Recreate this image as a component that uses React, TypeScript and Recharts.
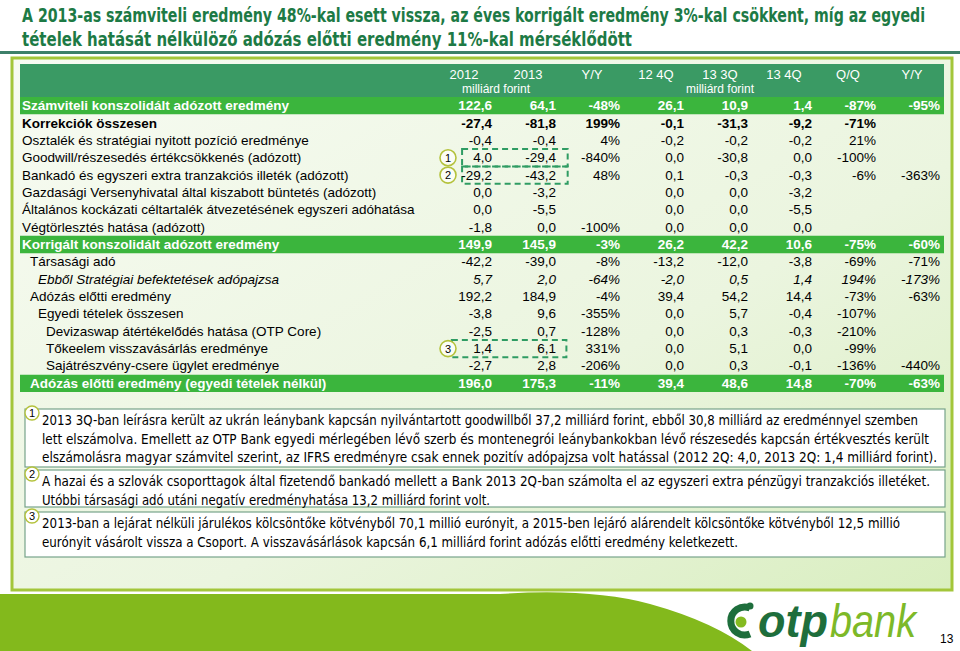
import React from 'react';
import { ScatterChart, Scatter, XAxis, YAxis, ReferenceArea, ReferenceDot } from 'recharts';

// row labels of the table (top to bottom)
const rowLabels = [
  'Számviteli konszolidált adózott eredmény',
  'Korrekciók összesen',
  'Osztalék és stratégiai nyitott pozíció eredménye',
  'Goodwill/részesedés értékcsökkenés (adózott)',
  'Bankadó és egyszeri extra tranzakciós illeték (adózott)',
  'Gazdasági Versenyhivatal által kiszabott büntetés (adózott)',
  'Általános kockázati céltartalék átvezetésének egyszeri adóhatása',
  'Végtörlesztés hatása (adózott)',
  'Korrigált konszolidált adózott eredmény',
  'Társasági adó',
  'Ebből Stratégiai befektetések adópajzsa',
  'Adózás előtti eredmény',
  'Egyedi tételek összesen',
  'Devizaswap átértékelődés hatása (OTP Core)',
  'Tőkeelem visszavásárlás eredménye',
  'Sajátrészvény-csere ügylet eredménye',
  'Adózás előtti eredmény (egyedi tételek nélkül)',
];
const rowIndent = [0, 0, 0, 0, 0, 0, 0, 0, 0, 1, 2, 1, 2, 3, 3, 3, 1];
const rowKind = ['total', 'bold', '', '', '', '', '', '', 'total', '', 'italic', '', '', '', '', '', 'total'];

const columns = ['2012', '2013', 'Y/Y', '12 4Q', '13 3Q', '13 4Q', 'Q/Q', 'Y/Y'];
const columnIsPct = [false, false, true, false, false, false, true, true];

const v2012 = [122.6, -27.4, -0.4, 4.0, -29.2, 0.0, 0.0, -1.8, 149.9, -42.2, 5.7, 192.2, -3.8, -2.5, 1.4, -2.7, 196.0];
const v2013 = [64.1, -81.8, -0.4, -29.4, -43.2, -3.2, -5.5, 0.0, 145.9, -39.0, 2.0, 184.9, 9.6, 0.7, 6.1, 2.8, 175.3];
const vYearPct = [-48, 199, 4, -840, 48, null, null, -100, -3, -8, -64, -4, -355, -128, 331, -206, -11];
const v124Q = [26.1, -0.1, -0.2, 0.0, 0.1, 0.0, 0.0, 0.0, 26.2, -13.2, -2.0, 39.4, 0.0, 0.0, 0.0, 0.0, 39.4];
const v133Q = [10.9, -31.3, -0.2, -30.8, -0.3, 0.0, 0.0, 0.0, 42.2, -12.0, 0.5, 54.2, 5.7, 0.3, 5.1, 0.3, 48.6];
const v134Q = [1.4, -9.2, -0.2, 0.0, -0.3, -3.2, -5.5, 0.0, 10.6, -3.8, 1.4, 14.4, -0.4, -0.3, 0.0, -0.1, 14.8];
const vQoQPct = [-87, -71, 21, -100, -6, null, null, null, -75, -69, 194, -73, -107, -210, -99, -136, -70];
const vYoYPct = [-95, null, null, null, -363, null, null, null, -60, -71, -173, -63, null, null, null, -440, -63];

const columnValues = [v2012, v2013, vYearPct, v124Q, v133Q, v134Q, vQoQPct, vYoYPct];

const unitNotes = [
  { col: 1.5, text: 'milliárd forint' },
  { col: 5, text: 'milliárd forint' },
];

const titleLines = [
  { text: 'A 2013-as számviteli eredmény 48%-kal esett vissza, az éves korrigált eredmény 3%-kal csökkent, míg az egyedi', w: 903 },
  { text: 'tételek hatását nélkülöző adózás előtti eredmény 11%-kal mérséklődött', w: 610 },
];

const footnotes = [
  {
    n: '1',
    lines: [
      { text: '2013 3Q-ban leírásra került az ukrán leánybank kapcsán nyilvántartott goodwillből 37,2 milliárd forint, ebből 30,8 milliárd az eredménnyel szemben', w: 876 },
      { text: 'lett elszámolva. Emellett az OTP Bank egyedi mérlegében lévő szerb és montenegrói leánybankokban lévő részesedés kapcsán értékvesztés került', w: 887 },
      { text: 'elszámolásra magyar számvitel szerint, az IFRS eredményre csak ennek pozitív adópajzsa volt hatással (2012 2Q: 4,0, 2013 2Q: 1,4 milliárd forint).', w: 895 },
    ],
  },
  {
    n: '2',
    lines: [
      { text: 'A hazai és a szlovák csoporttagok által fizetendő bankadó mellett a Bank 2013 2Q-ban számolta el az egyszeri extra pénzügyi tranzakciós illetéket.', w: 888 },
      { text: 'Utóbbi társasági adó utáni negatív eredményhatása 13,2 milliárd forint volt.', w: 448 },
    ],
  },
  {
    n: '3',
    lines: [
      { text: '2013-ban a lejárat nélküli járulékos kölcsöntőke kötvényből 70,1 millió eurónyit, a 2015-ben lejáró alárendelt kölcsöntőke kötvényből 12,5 millió', w: 858 },
      { text: 'eurónyit vásárolt vissza a Csoport. A visszavásárlások kapcsán 6,1 milliárd forint adózás előtti eredmény keletkezett.', w: 696 },
    ],
  },
];

const SANS = "'Liberation Sans', Arial, sans-serif";
const NARROW = "'Liberation Sans Narrow', 'Arial Narrow', 'DejaVu Sans Condensed', sans-serif";
const FS = 13.5;

const CHART_W = 960;
const CHART_H = 400;
const margin = { top: 64, right: 16, bottom: 8, left: 19 };
const xDomain: [number, number] = [-5.9375, 8.5];
const colStep = (CHART_W - 20 - margin.right) / (xDomain[1] - xDomain[0]);

const fmt = (v: number, pct: boolean) => (pct ? `${v}%` : v.toFixed(1).replace('.', ','));

const cellData = (ci: number) =>
  columnValues[ci]
    .map((v, ri) =>
      v === null
        ? null
        : { col: ci + 1, row: rowLabels[ri], text: fmt(v as number, columnIsPct[ci]), kind: rowKind[ri] }
    )
    .filter(Boolean);

const textStyle = (kind: string) => ({
  fill: kind === 'total' ? '#fff' : '#000',
  fontWeight: kind === 'total' || kind === 'bold' ? 'bold' : 'normal',
  fontStyle: kind === 'italic' ? 'italic' : 'normal',
});

const HeaderTick = (props: any) => {
  const { x, y, payload } = props;
  const notes = unitNotes.filter((n) => Math.floor(n.col) === payload.value);
  return (
    <g>
      <text x={x} y={y - 18} textAnchor="middle" fill="#fff" fontSize={13} fontFamily={SANS}>
        {columns[payload.value - 1]}
      </text>
      {notes.map((n) => (
        <text
          key={n.col}
          x={x + (n.col - payload.value) * colStep}
          y={y - 4}
          textAnchor="middle"
          fill="#fff"
          fontSize={12}
          fontFamily={SANS}
        >
          {n.text}
        </text>
      ))}
    </g>
  );
};

const RowTick = (props: any) => {
  const { x, y, payload } = props;
  const ri = rowLabels.indexOf(payload.value);
  return (
    <text x={x + 2 + rowIndent[ri] * 8} y={y + 4.5} textAnchor="start" fontSize={FS} fontFamily={SANS} style={textStyle(rowKind[ri]) as any}>
      {payload.value}
    </text>
  );
};

const CellText = (props: any) => {
  const { cx, cy, payload } = props;
  return (
    <text x={cx + 28} y={cy + 4.5} textAnchor="end" fontSize={FS} fontFamily={SANS} style={textStyle(payload.kind) as any}>
      {payload.text}
    </text>
  );
};

const Marker = (label: string) => (props: any) => (
  <g>
    <circle cx={props.cx} cy={props.cy} r={8} fill="#fbfdf6" stroke="#b4c23c" strokeWidth={1.6} />
    <text x={props.cx} y={props.cy + 4} textAnchor="middle" fontSize={11} fontFamily={SANS} fill="#000">
      {label}
    </text>
  </g>
);

const TITLE_SX = 0.78;

const Background = () => (
  <svg width={960} height={651} style={{ position: 'absolute', left: 0, top: 0 }}>
    <defs>
      <linearGradient id="boxBg" x1="0" y1="0" x2="1" y2="1">
        <stop offset="0" stopColor="#f7fbf2" />
        <stop offset="0.6" stopColor="#ebf5df" />
        <stop offset="1" stopColor="#d9eec0" />
      </linearGradient>
    </defs>
    <rect width={960} height={651} fill="#fff" />
    {titleLines.map((l, i) => (
      <g key={i} transform={`translate(22,${22 + i * 24}) scale(${TITLE_SX},1)`}>
        <text
          x={0}
          y={0}
          fontSize={19}
          fontWeight="bold"
          fontFamily={NARROW}
          fill="#1d7a45"
          textLength={l.w / TITLE_SX}
          lengthAdjust="spacingAndGlyphs"
        >
          {l.text}
        </text>
      </g>
    ))}
    <rect x={0} y={51} width={960} height={3} fill="#3d8069" />
    <rect x={12} y={58} width={940} height={532} fill="url(#boxBg)" stroke="#a3c63a" strokeWidth={3} />
    <rect x={20} y={64} width={924} height={33} fill="#3a9a64" />
    {footnotes.map((f, fi) => {
      const top = [409, 470, 512][fi];
      const h = [58, 37, 45][fi];
      return (
        <g key={f.n}>
          <rect x={25} y={top} width={920} height={h} fill="#fff" stroke="#77a38a" strokeWidth={1.2} />
          <circle cx={32} cy={top + 4} r={7} fill="#fff" stroke="#b4c23c" strokeWidth={1.4} />
          <text x={32} y={top + 8} textAnchor="middle" fontSize={11} fontFamily={SANS}>
            {f.n}
          </text>
          {f.lines.map((l, li) => (
            <text
              key={li}
              x={42}
              y={top + 16 + li * 18.5}
              fontSize={13.5}
              fontFamily={NARROW}
              fill="#000"
              textLength={l.w}
              lengthAdjust="spacingAndGlyphs"
            >
              {l.text}
            </text>
          ))}
        </g>
      );
    })}
    <path d="M0,594 H500 Q590,588 650,604 Q715,622 752,651 H0 Z" fill="#83b91c" />
    <g>
      <path d="M750,608 A14,14 0 1 0 750,634" fill="none" stroke="#1e6e3c" strokeWidth={7} />
      <circle cx={741} cy={622} r={5.5} fill="#84bb21" />
      <circle cx={750} cy={606} r={3.5} fill="#1e6e3c" />
      <text x={758} y={637} fontSize={46} fontFamily={SANS} fontStyle="italic" fontWeight="bold" fill="#1e6e3c" textLength={70} lengthAdjust="spacingAndGlyphs">
        otp
      </text>
      <text x={830} y={637} fontSize={46} fontFamily={SANS} fontStyle="italic" fill="#7db928" textLength={86} lengthAdjust="spacingAndGlyphs">
        bank
      </text>
    </g>
    <text x={940} y={643} fontSize={12} fontFamily={SANS} fill="#000">
      13
    </text>
  </svg>
);

export default function App() {
  return (
    <div style={{ position: 'absolute', left: 0, top: 0, width: 960, height: 651, overflow: 'hidden' }}>
      <Background />
      <div style={{ position: 'absolute', left: 0, top: 0 }}>
        <ScatterChart width={CHART_W} height={CHART_H} margin={margin}>
          <XAxis
            type="number"
            dataKey="col"
            orientation="top"
            domain={xDomain}
            allowDataOverflow
            ticks={[1, 2, 3, 4, 5, 6, 7, 8]}
            interval={0}
            height={33}
            axisLine={false}
            tickLine={false}
            tickSize={0}
            tickMargin={0}
            tick={HeaderTick}
          />
          <YAxis
            type="category"
            dataKey="row"
            allowDuplicatedCategory={false}
            reversed
            width={1}
            interval={0}
            axisLine={false}
            tickLine={false}
            tickSize={0}
            tickMargin={0}
            tick={RowTick}
          />
          {rowLabels
            .filter((_, ri) => rowKind[ri] === 'total')
            .map((r) => (
              <ReferenceArea key={r} y1={r} y2={r} fill="#3bb53d" fillOpacity={1} stroke="none" ifOverflow="visible" />
            ))}
          <ReferenceArea x1={0.97} x2={2.62} y1={rowLabels[3]} y2={rowLabels[3]} fill="none" stroke="#2f9c63" strokeWidth={2} strokeDasharray="6 4" ifOverflow="visible" />
          <ReferenceArea x1={0.97} x2={2.62} y1={rowLabels[4]} y2={rowLabels[4]} fill="none" stroke="#2f9c63" strokeWidth={2} strokeDasharray="6 4" ifOverflow="visible" />
          <ReferenceArea x1={0.81} x2={2.6} y1={rowLabels[14]} y2={rowLabels[14]} fill="none" stroke="#2f9c63" strokeWidth={2} strokeDasharray="6 4" ifOverflow="visible" />
          <ReferenceDot x={0.75} y={rowLabels[3]} r={8} shape={Marker('1')} ifOverflow="visible" />
          <ReferenceDot x={0.75} y={rowLabels[4]} r={8} shape={Marker('2')} ifOverflow="visible" />
          <ReferenceDot x={0.75} y={rowLabels[14]} r={8} shape={Marker('3')} ifOverflow="visible" />
          {columns.map((c, ci) => (
            <Scatter key={ci} data={cellData(ci) as any[]} shape={CellText} isAnimationActive={false} />
          ))}
        </ScatterChart>
      </div>
    </div>
  );
}
